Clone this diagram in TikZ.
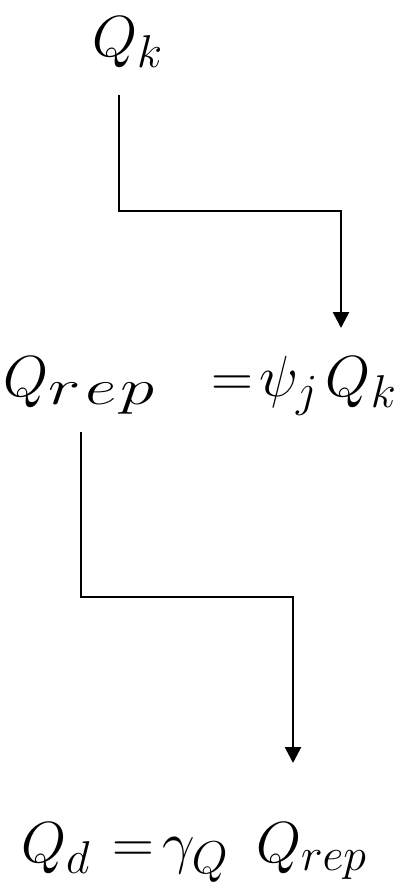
\RequirePackage{fix-cm}
\documentclass[tikz,border=0pt]{standalone}
\usepackage{graphicx}
\usetikzlibrary{arrows.meta}
\DeclareMathSizes{58}{58}{46}{34}
\begin{document}
\begin{tikzpicture}[x=1pt,y=-1pt,
  eq/.style={inner sep=0pt,anchor=base west,font=\fontsize{58}{62}\selectfont},
  conn/.style={line width=2.6pt,line join=miter,-{Triangle[width=16pt,length=16pt]}}]
\useasboundingbox (0,0) rectangle (414,884);
\node[eq] (qk) at (92,56) {$Q_k$};
\node[eq] (qrep) at (3,396) {$Q_{\scalebox{1.5}[1.09]{$\scriptstyle r\mkern1.2mu e\mkern1.2mu p$}}\hspace{56pt}{=}\hspace{6pt}\psi_j\hspace{8pt}Q_k$};
\node[eq] (qd) at (21,862) {$Q_d\hspace{22pt}{=}\hspace{8.6pt}\gamma_Q\hspace{28pt}Q_{rep}$};
\coordinate (a0) at (119,95);
\coordinate (a1) at (119,211);
\coordinate (a2) at (341,211);
\coordinate (a3) at (341,328);
\coordinate (b0) at (81,432);
\coordinate (b1) at (81,597);
\coordinate (b2) at (293,597);
\coordinate (b3) at (293,763);
\draw[conn] (a0) -- (a1) -- (a2) -- (a3);
\draw[conn] (b0) -- (b1) -- (b2) -- (b3);
\end{tikzpicture}
\end{document}
